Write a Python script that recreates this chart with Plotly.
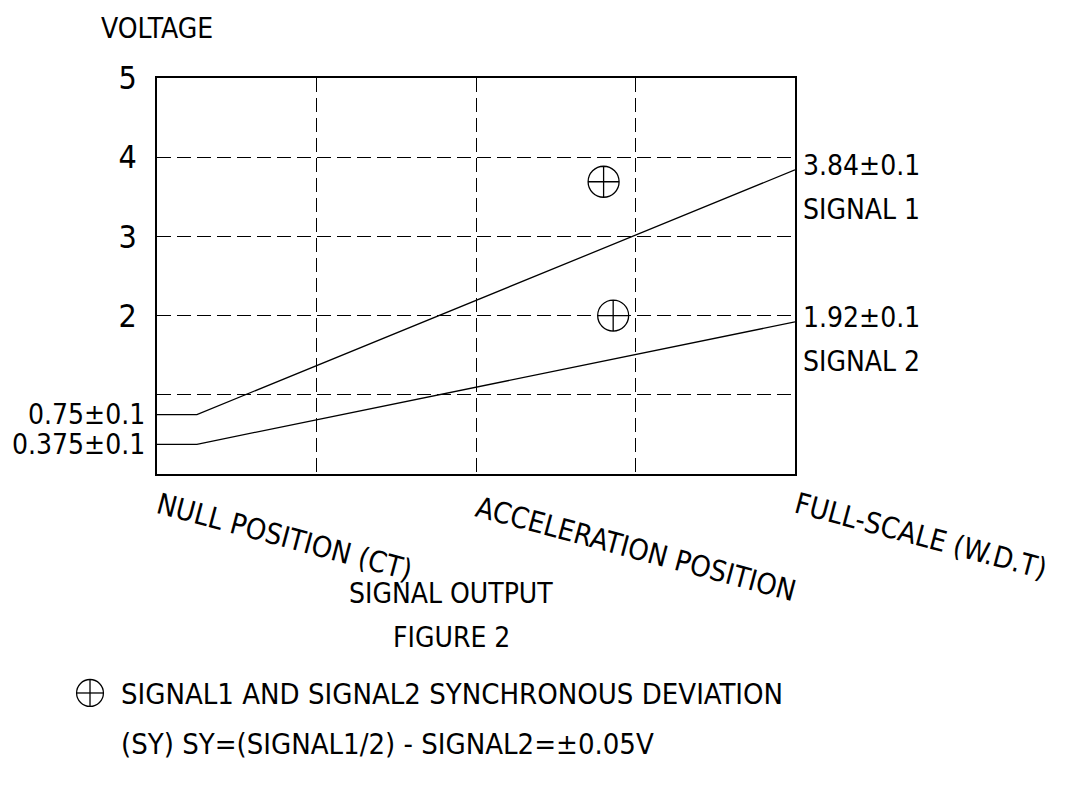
import plotly.graph_objects as go

# ---- data ----
positions = [0, 0.25, 4]                 # x positions (0 = null, 4 = full-scale)
signal1 = [0.75, 0.75, 3.84]
signal2 = [0.375, 0.375, 1.92]
signal1_start_label = "0.75±0.1"
signal2_start_label = "0.375±0.1"
signal1_end_label = "3.84±0.1"
signal2_end_label = "1.92±0.1"
series_names = ["SIGNAL 1", "SIGNAL 2"]
dev_x = [2.80, 2.86]                     # synchronous deviation symbols
dev_y = [3.69, 2.0]
x_cat_pos = [0, 2, 4]
x_cat_labels = ["NULL POSITION (CT)", "ACCELERATION POSITION", "FULL-SCALE (W.D.T)"]
y_grid = [1, 2, 3, 4, 5]
y_ticktext = ["", "2", "3", "4", "5"]
x_grid = [1, 2, 3]

FONT = "DejaVu Sans Condensed, Liberation Sans Narrow, DejaVu Sans, sans-serif"
FS = 28

fig = go.Figure()
fig.add_trace(go.Scatter(x=positions, y=signal1, mode="lines",
                         line=dict(color="black", width=1.3), showlegend=False))
fig.add_trace(go.Scatter(x=positions, y=signal2, mode="lines",
                         line=dict(color="black", width=1.3), showlegend=False))
fig.add_trace(go.Scatter(x=dev_x, y=dev_y, mode="markers",
                         marker=dict(symbol="circle-cross-open", size=31,
                                     color="black", line=dict(width=1.3, color="black")),
                         showlegend=False, cliponaxis=False))

ann = []
# left start labels
for val, lab in [(signal1[0], signal1_start_label), (signal2[0], signal2_start_label)]:
    ann.append(dict(x=0, xref="paper", y=val, yref="y", text=lab, showarrow=False,
                    xanchor="right", yanchor="middle", xshift=-10))
# right end labels
for val, lab, name in [(signal1[-1], signal1_end_label, series_names[0]),
                       (signal2[-1], signal2_end_label, series_names[1])]:
    ann.append(dict(x=1, xref="paper", y=val, yref="y", text=lab, showarrow=False,
                    xanchor="left", yanchor="middle", xshift=6, yshift=4))
    ann.append(dict(x=1, xref="paper", y=val, yref="y", text=name, showarrow=False,
                    xanchor="left", yanchor="middle", xshift=6, yshift=-40))
# rotated category labels
yshifts = [-10, -13, -10]
for xp, lab, ys in zip(x_cat_pos, x_cat_labels, yshifts):
    ann.append(dict(x=xp, xref="x", y=0, yref="paper", text=lab, showarrow=False,
                    textangle=15, xanchor="left", yanchor="top", yshift=ys, xshift=-6,
                    font=dict(size=29)))
# titles
ann.append(dict(x=0, xref="paper", y=1.124, yref="paper", text="VOLTAGE",
                showarrow=False, xanchor="center", yanchor="middle"))
ann.append(dict(x=0.461, xref="paper", y=-0.303, yref="paper", text="SIGNAL OUTPUT",
                showarrow=False, xanchor="center", yanchor="middle"))
ann.append(dict(x=0.461, xref="paper", y=-0.414, yref="paper", text="FIGURE 2",
                showarrow=False, xanchor="center", yanchor="middle"))
ann.append(dict(x=-0.06, xref="paper", y=-0.556, yref="paper",
                text="SIGNAL1 AND SIGNAL2 SYNCHRONOUS DEVIATION",
                showarrow=False, xanchor="left", yanchor="middle", font=dict(size=29)))
ann.append(dict(x=-0.06, xref="paper", y=-0.682, yref="paper",
                text="(SY) SY=(SIGNAL1/2) - SIGNAL2=±0.05V",
                showarrow=False, xanchor="left", yanchor="middle", font=dict(size=29)))

# legend symbol (circle with cross) for the note, in paper coordinates
cx, cy, rx, ry = -0.105, -0.553, 0.021, 0.034
shapes = [
    dict(type="circle", xref="paper", yref="paper", x0=cx - rx, x1=cx + rx,
         y0=cy - ry, y1=cy + ry, line=dict(color="black", width=1.3)),
    dict(type="line", xref="paper", yref="paper", x0=cx - rx, x1=cx + rx,
         y0=cy, y1=cy, line=dict(color="black", width=1.3)),
    dict(type="line", xref="paper", yref="paper", x0=cx, x1=cx,
         y0=cy - ry, y1=cy + ry, line=dict(color="black", width=1.3)),
]

# page body has an 8px margin: shrink figure so the plot lands where intended
fig.update_layout(
    width=1069, height=782,
    margin=dict(l=149, r=282, t=70, b=316),
    paper_bgcolor="white", plot_bgcolor="white",
    font=dict(family=FONT, size=FS, color="black"),
    annotations=ann, shapes=shapes,
    xaxis=dict(range=[0, 4], tickvals=x_grid, showticklabels=False, ticks="",
               showgrid=True, gridcolor="black", gridwidth=1.2, griddash="14px,6px",
               showline=True, linecolor="black", linewidth=1.5, mirror=True,
               zeroline=False, fixedrange=True),
    yaxis=dict(range=[0, 5], tickvals=y_grid, ticktext=y_ticktext, ticks="",
               ticklabelstandoff=12, tickfont=dict(size=32),
               showgrid=True, gridcolor="black", gridwidth=1.2, griddash="14px,6px",
               showline=True, linecolor="black", linewidth=1.5, mirror=True,
               zeroline=False, fixedrange=True),
)

fig.write_html("out.html")
